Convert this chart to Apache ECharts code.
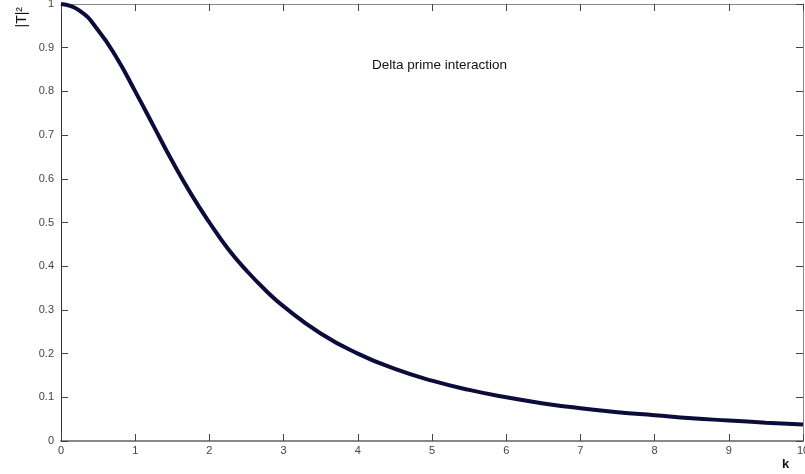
<!DOCTYPE html>
<html lang="en">

<head>
  <meta charset="UTF-8">
  <title>Delta prime interaction</title>
  <style>
    html, body { margin: 0; padding: 0; background: #fff; }
    #main { width: 805px; height: 474px; }
  </style>
</head>

<body>
  <div id="main"></div>
  <script src="https://cdn.jsdelivr.net/npm/echarts@6/dist/echarts.min.js"></script>
  <script>
    // values
    const kValues = [0, 0.25, 0.5, 0.75, 1, 1.25, 1.5, 1.75, 2, 2.25, 2.5, 2.75, 3, 3.5, 4, 4.5, 5, 5.5, 6, 6.5, 7, 7.5, 8, 8.5, 9, 9.5, 10];
    const tValues = [1.0, 0.985, 0.94, 0.877, 0.80, 0.72, 0.64, 0.566, 0.50, 0.44, 0.39, 0.346, 0.308, 0.246, 0.20, 0.165, 0.138, 0.117, 0.10, 0.086, 0.075, 0.066, 0.059, 0.052, 0.047, 0.042, 0.038];
    const xTicks = [0, 1, 2, 3, 4, 5, 6, 7, 8, 9, 10];
    const yTicks = [0, 0.1, 0.2, 0.3, 0.4, 0.5, 0.6, 0.7, 0.8, 0.9, 1];

    const myChart = echarts.init(document.getElementById('main'));

    const font = 'Liberation Sans, Arial, sans-serif';

    // shared axis look, ticks point inward like the original
    // onZero off, otherwise the mirror axes jump onto the zero line
    const baseAxis = {
      type: 'value',
      axisLine: { show: true, onZero: false, lineStyle: { color: '#888', width: 1 } },
      axisTick: { show: true, inside: true, length: 7, lineStyle: { color: '#444' } },
      splitLine: { show: false }
    };

    const option = {
      animation: false,
      title: {
        text: 'Delta prime interaction',
        left: 367, top: 53,
        textStyle: { fontFamily: font, fontSize: 13.5, fontWeight: 'normal', color: '#111' }
      },
      // the "10" label is allowed to run off the edge, as in the original
      grid: { left: 61, right: 2, top: 4, bottom: 33, outerBoundsMode: 'none', containLabel: false },
      xAxis: [
        Object.assign({}, baseAxis, {
          min: xTicks[0], max: xTicks[xTicks.length - 1], interval: 1,
          position: 'bottom',
          axisLine: { show: true, onZero: false, lineStyle: { color: '#888', width: 2 } },
          axisLabel: { margin: 4, fontFamily: font, fontSize: 11, color: '#444' }
        }),
        Object.assign({}, baseAxis, {
          min: xTicks[0], max: xTicks[xTicks.length - 1], interval: 1,
          position: 'top',
          axisLabel: { show: false }
        })
      ],
      yAxis: [
        Object.assign({}, baseAxis, {
          min: yTicks[0], max: yTicks[yTicks.length - 1], interval: 0.1,
          position: 'left',
          axisLine: { show: true, onZero: false, lineStyle: { color: '#333', width: 1 } },
          axisLabel: { margin: 7, fontFamily: font, fontSize: 11, color: '#444' }
        }),
        Object.assign({}, baseAxis, {
          min: yTicks[0], max: yTicks[yTicks.length - 1], interval: 0.1,
          position: 'right',
          axisLabel: { show: false }
        })
      ],
      graphic: [
        {
          type: 'text', left: 782, top: 458,
          style: { text: 'k', fontFamily: font, fontSize: 13, fontWeight: 'bold', fill: '#111' }
        },
        {
          type: 'text', left: 15, top: 7, rotation: Math.PI / 2,
          style: { text: '|T|²', fontFamily: font, fontSize: 14, fill: '#111' }
        }
      ],
      series: [{
        type: 'line',
        smooth: true,
        showSymbol: false,
        data: kValues.map((k, i) => [k, tValues[i]]),
        lineStyle: { color: '#0c0c3c', width: 4 }
      }]
    };

    myChart.setOption(option);
  </script>
</body>

</html>
